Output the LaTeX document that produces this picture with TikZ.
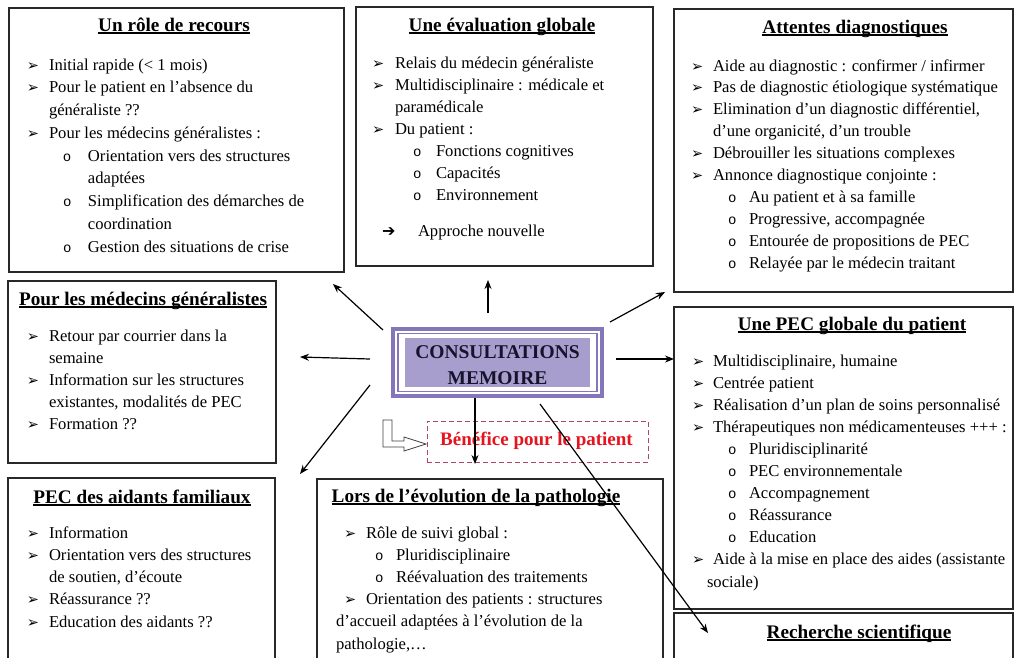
\documentclass[tikz,border=0pt]{standalone}
\usepackage{fontspec}
\setmainfont{Liberation Serif}
\newfontfamily\djv{DejaVu Sans}
\newfontfamily\mono{Liberation Mono}
\usetikzlibrary{arrows.meta}
\definecolor{frameP}{RGB}{132,118,186}
\definecolor{fillP}{RGB}{168,158,206}
\definecolor{navy}{RGB}{22,20,45}
\definecolor{benC}{RGB}{176,70,100}
\definecolor{benT}{RGB}{230,20,30}
\definecolor{edge}{RGB}{40,40,40}
\newcommand\Bul{\raisebox{0pt}{\djv\fontsize{14.5pt}{14pt}\selectfont ➢}}
\newcommand\Cir{{\mono\fontsize{14pt}{14pt}\selectfont o}}
\newcommand\Arr{{\djv\fontsize{16pt}{16pt}\selectfont ➔}}
\newcommand\LA[2]{\hbox{\makebox[#1][l]{\Bul}#2}}
\newcommand\LC[2]{\hbox{\hspace*{#1}#2}}
\newcommand\LB[3]{\hbox{\hspace*{#1}\makebox[#2][l]{\Cir}#3}}
\newcommand\LR[3]{\hbox{\hspace*{#1}\makebox[#2][l]{\Arr}#3}}
\newcommand\Body[2]{\vtop{\fontsize{16.6pt}{#1}\selectfont #2}}
\newcommand\Ul[1]{\setbox0\hbox{#1}\rlap{\rule[-2.6pt]{\wd0}{1.4pt}}\box0}
\tikzset{
  frame/.style={draw=edge, line width=1.2pt, inner sep=0pt, outer sep=0pt, anchor=north west},
  ttl/.style={font=\fontsize{19.2pt}{21pt}\selectfont\bfseries, anchor=base, inner sep=0pt, outer sep=0pt},
  body/.style={anchor=base west, inner sep=0pt, outer sep=0pt},
  con/.style={line width=1.2pt, -{Stealth[length=9pt,width=7pt]}},
  cmtext/.style={font=\fontsize{19.5pt}{21pt}\selectfont\bfseries, text=navy, anchor=base, inner sep=0pt},
}
\begin{document}
\begin{tikzpicture}[x=1pt,y=-1pt]
\useasboundingbox (0,0) rectangle (1017,657);
\clip (0,0) rectangle (1017,657);
\fill[white] (0,0) rectangle (1017,657);

% frames
\node[frame, minimum width=335pt, minimum height=264pt] (b1) at (9,8) {};
\node[frame, minimum width=297pt, minimum height=259pt] (b2) at (356,7) {};
\node[frame, minimum width=339pt, minimum height=283pt] (b3) at (674,9) {};
\node[frame, minimum width=268pt, minimum height=182pt] (b4) at (8,281) {};
\node[frame, minimum width=267pt, minimum height=200pt] (b5) at (8,478) {};
\node[frame, minimum width=346pt, minimum height=200pt] (b6) at (317,479) {};
\node[frame, minimum width=339pt, minimum height=302pt] (b7) at (674,307) {};
\node[frame, minimum width=339pt, minimum height=100pt] (b8) at (674,613) {};

% titles
\node[ttl] (b1h) at (174,31) {\Ul{Un rôle de recours}};
\node[ttl] (b2h) at (502,31) {\Ul{Une évaluation globale}};
\node[ttl] (b3h) at (855,33) {\Ul{Attentes diagnostiques}};
\node[ttl] (b4h) at (143,305) {\Ul{Pour les médecins généralistes}};
\node[ttl] (b5h) at (142,503) {\Ul{PEC des aidants familiaux}};
\node[ttl] (b6h) at (476,502) {\Ul{Lors de l’évolution de la pathologie}};
\node[ttl] (b7h) at (852,330) {\Ul{Une PEC globale du patient}};
\node[ttl] (b8h) at (859,638) {\Ul{Recherche scientifique}};

% bodies
\node[body] (b1x) at (27,70) {\Body{22.75pt}{%
  \LA{22pt}{Initial rapide (< 1 mois)}
  \LA{22pt}{Pour le patient en l’absence du}
  \LC{22pt}{généraliste ??}
  \LA{22pt}{Pour les médecins généralistes :}
  \LB{36pt}{25pt}{Orientation vers des structures}
  \LC{61pt}{adaptées}
  \LB{36pt}{25pt}{Simplification des démarches de}
  \LC{61pt}{coordination}
  \LB{36pt}{25pt}{Gestion des situations de crise}}};

\node[body] (b2x) at (372,68) {\Body{22pt}{%
  \LA{23pt}{Relais du médecin généraliste}
  \LA{23pt}{Multidisciplinaire : médicale et}
  \LC{23pt}{paramédicale}
  \LA{23pt}{Du patient :}
  \LB{41pt}{23pt}{Fonctions cognitives}
  \LB{41pt}{23pt}{Capacités}
  \LB{41pt}{23pt}{Environnement}
  \vskip 14pt
  \LR{10pt}{36pt}{Approche nouvelle}}};

\node[body] (b3x) at (691,71) {\Body{21.9pt}{%
  \LA{22pt}{Aide au diagnostic : confirmer / infirmer}
  \LA{22pt}{Pas de diagnostic étiologique systématique}
  \LA{22pt}{Elimination d’un diagnostic différentiel,}
  \LC{22pt}{d’une organicité, d’un trouble}
  \LA{22pt}{Débrouiller les situations complexes}
  \LA{22pt}{Annonce diagnostique conjointe :}
  \LB{37pt}{21pt}{Au patient et à sa famille}
  \LB{37pt}{21pt}{Progressive, accompagnée}
  \LB{37pt}{21pt}{Entourée de propositions de PEC}
  \LB{37pt}{21pt}{Relayée par le médecin traitant}}};

\node[body] (b4x) at (27,341) {\Body{22pt}{%
  \LA{22pt}{Retour par courrier dans la}
  \LC{22pt}{semaine}
  \LA{22pt}{Information sur les structures}
  \LC{22pt}{existantes, modalités de PEC}
  \LA{22pt}{Formation ??}}};

\node[body] (b5x) at (27,538) {\Body{22.25pt}{%
  \LA{22pt}{Information}
  \LA{22pt}{Orientation vers des structures}
  \LC{22pt}{de soutien, d’écoute}
  \LA{22pt}{Réassurance ??}
  \LA{22pt}{Education des aidants ??}}};

\node[body] (b6x) at (344,538) {\Body{22.2pt}{%
  \LA{22pt}{Rôle de suivi global :}
  \LB{31pt}{21pt}{Pluridisciplinaire}
  \LB{31pt}{21pt}{Réévaluation des traitements}
  \LA{22pt}{Orientation des patients : structures}
  \LC{-8pt}{d’accueil adaptées à l’évolution de la}
  \LC{-8pt}{pathologie,…}}};

\node[body] (b7x) at (692,366) {\Body{22.1pt}{%
  \LA{21pt}{Multidisciplinaire, humaine}
  \LA{21pt}{Centrée patient}
  \LA{21pt}{Réalisation d’un plan de soins personnalisé}
  \LA{21pt}{Thérapeutiques non médicamenteuses +++ :}
  \LB{36pt}{21pt}{Pluridisciplinarité}
  \LB{36pt}{21pt}{PEC environnementale}
  \LB{36pt}{21pt}{Accompagnement}
  \LB{36pt}{21pt}{Réassurance}
  \LB{36pt}{21pt}{Education}
  \LA{21pt}{Aide à la mise en place des aides (assistante}
  \LC{15pt}{sociale)}}};

% central node
\node[draw=frameP, line width=4pt, minimum width=209pt, minimum height=67pt,
      anchor=north west, inner sep=0pt, outer sep=0pt] (cm) at (393,329) {};
\node[draw=frameP, line width=1.2pt, minimum width=199pt, minimum height=58pt,
      anchor=north west, inner sep=0pt, outer sep=0pt] (cmi) at (398,333.5) {};
\node[fill=fillP, minimum width=185pt, minimum height=49pt,
      anchor=north west, inner sep=0pt, outer sep=0pt] (cmf) at (405,338) {};
\node[cmtext] (cm1) at (497.5,358) {CONSULTATIONS};
\node[cmtext] (cm2) at (497.5,384) {MEMOIRE};

% benefice
\node[draw=benC, line width=1pt, dash pattern=on 5pt off 3pt, minimum width=221pt,
      minimum height=41pt, anchor=north west, inner sep=0pt, outer sep=0pt] (ben) at (427,421) {};
\node[font=\fontsize{19pt}{21pt}\selectfont\bfseries, text=benT, anchor=base, inner sep=0pt] (bent) at (536.5,445) {Bénéfice pour le patient};

% hollow L arrow
\draw[line width=0.8pt, draw=black!75, fill=white]
  (383,420) -- (392,420) -- (392,441) -- (404,441) -- (404,437) -- (426,444)
  -- (404,451) -- (404,447) -- (383,447) -- cycle;

% connectors
\coordinate (s1) at (383,330); \coordinate (e1) at (333,284);
\coordinate (s2) at (488,313); \coordinate (e2) at (488,280);
\coordinate (s3) at (610,322); \coordinate (e3) at (665,292);
\coordinate (s4) at (370,359); \coordinate (e4) at (300,357);
\coordinate (s5) at (616,359); \coordinate (e5) at (674,359);
\coordinate (s6) at (370,385); \coordinate (e6) at (300,474);
\coordinate (s7) at (475,398); \coordinate (e7) at (475,464);
\coordinate (s8) at (540,404); \coordinate (e8) at (708,633);
\draw[con] (s1) -- (e1);
\draw[con] (s2) -- (e2);
\draw[con] (s3) -- (e3);
\draw[con] (s4) -- (e4);
\draw[con] (s5) -- (e5);
\draw[con] (s6) -- (e6);
\draw[con] (s7) -- (e7);
\draw[con] (s8) -- (e8);
\end{tikzpicture}
\end{document}
